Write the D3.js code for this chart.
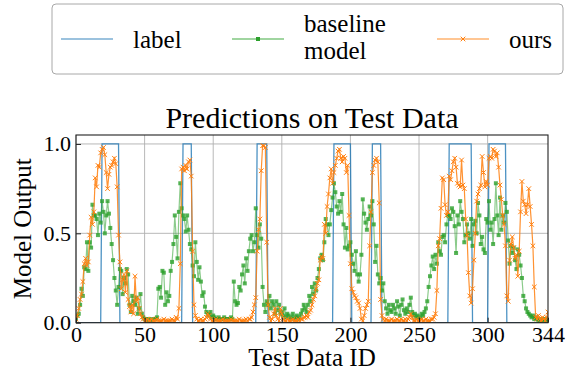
<!DOCTYPE html>
<html>
<head>
<meta charset="utf-8">
<script src="https://cdn.jsdelivr.net/npm/d3@7"></script>
<style>
  body { margin: 0; background: #fff; }
  svg, svg text { font-family: "Liberation Serif", "Times New Roman", serif; }
</style>
</head>
<body>
<div id="app"></div>
<script>
const WIDTH = 566;
const HEIGHT = 376;

// test sample ids 0..344
const ID_MAX = 344;

// label == 1 on these id ranges (inclusive), 0 elsewhere
const labelSpans = [
  [19, 31], [78, 84], [132, 139], [188, 200], [216, 222], [272, 288], [301, 313],
];

// baseline model output per id
const baseline = [
  0.02,0.04,0.05,0.10,0.19,0.15,0.31,0.30,0.45,0.29,
  0.45,0.42,0.66,0.60,0.60,0.58,0.49,0.61,0.56,0.68,
  0.62,0.50,0.60,0.68,0.61,0.53,0.44,0.35,0.25,0.18,
  0.10,0.20,0.30,0.29,0.16,0.25,0.22,0.30,0.27,0.10,
  0.06,0.15,0.12,0.10,0.14,0.05,0.08,0.16,0.05,0.03,
  0.02,0.02,0.01,0.02,0.01,0.02,0.01,0.02,0.02,0.03,
  0.19,0.20,0.14,0.29,0.28,0.10,0.17,0.12,0.15,0.29,
  0.34,0.44,0.60,0.48,0.36,0.62,0.78,0.64,0.60,0.58,
  0.51,0.60,0.52,0.44,0.41,0.32,0.26,0.45,0.34,0.24,
  0.31,0.23,0.15,0.17,0.09,0.06,0.05,0.04,0.06,0.03,
  0.04,0.03,0.02,0.02,0.03,0.02,0.02,0.02,0.03,0.02,
  0.02,0.02,0.02,0.03,0.02,0.23,0.12,0.10,0.11,0.20,
  0.18,0.27,0.32,0.22,0.36,0.29,0.40,0.47,0.49,0.40,
  0.45,0.64,0.49,0.42,0.55,0.47,0.20,0.10,0.06,0.12,
  0.10,0.15,0.08,0.12,0.10,0.05,0.12,0.07,0.10,0.05,
  0.06,0.04,0.08,0.03,0.05,0.04,0.02,0.03,0.05,0.02,
  0.03,0.04,0.02,0.03,0.05,0.07,0.10,0.08,0.06,0.10,
  0.15,0.12,0.20,0.16,0.22,0.18,0.25,0.30,0.36,0.38,
  0.35,0.45,0.58,0.55,0.49,0.55,0.63,0.70,0.78,0.73,
  0.65,0.61,0.68,0.62,0.72,0.55,0.42,0.53,0.41,0.43,
  0.45,0.38,0.33,0.29,0.40,0.27,0.23,0.27,0.38,0.69,
  0.61,0.56,0.52,0.58,0.65,0.60,0.68,0.55,0.34,0.43,
  0.27,0.22,0.25,0.18,0.22,0.12,0.08,0.05,0.10,0.07,
  0.06,0.10,0.08,0.05,0.12,0.09,0.04,0.10,0.13,0.07,
  0.05,0.08,0.06,0.10,0.14,0.06,0.04,0.05,0.03,0.04,
  0.02,0.03,0.05,0.04,0.06,0.08,0.12,0.20,0.26,0.32,
  0.37,0.30,0.38,0.33,0.45,0.40,0.38,0.48,0.49,0.45,
  0.55,0.60,0.60,0.58,0.64,0.62,0.54,0.39,0.60,0.55,
  0.68,0.62,0.58,0.45,0.49,0.55,0.50,0.47,0.58,0.43,
  0.55,0.57,0.50,0.67,0.60,0.44,0.48,0.41,0.39,0.58,
  0.56,0.68,0.52,0.56,0.44,0.58,0.78,0.60,0.49,0.70,
  0.52,0.60,0.56,0.67,0.62,0.46,0.33,0.43,0.39,0.42,
  0.35,0.30,0.41,0.38,0.32,0.25,0.15,0.12,0.08,0.06,
  0.05,0.04,0.03,0.04,0.02,0.03,0.02,0.01,0.02,0.01,
  0.02,0.01,0.02,0.01,0.02,
];

// our model output per id
const ours = [
  0.02,0.04,0.08,0.13,0.16,0.23,0.33,0.36,0.32,0.34,
  0.49,0.59,0.55,0.62,0.81,0.76,0.88,0.87,0.95,0.97,
  0.98,0.94,0.84,0.75,0.83,0.87,0.88,0.90,0.92,0.89,
  0.76,0.49,0.34,0.19,0.24,0.27,0.17,0.29,0.13,0.09,
  0.06,0.10,0.05,0.26,0.12,0.14,0.08,0.05,0.03,0.02,
  0.01,0.01,0.02,0.01,0.01,0.02,0.01,0.01,0.01,0.02,
  0.01,0.01,0.01,0.01,0.02,0.01,0.01,0.01,0.01,0.01,
  0.02,0.01,0.01,0.03,0.02,0.08,0.33,0.86,0.87,0.85,
  0.88,0.86,0.90,0.91,0.82,0.40,0.10,0.04,0.02,0.01,
  0.01,0.02,0.01,0.01,0.02,0.03,0.05,0.04,0.02,0.01,
  0.01,0.01,0.02,0.01,0.01,0.01,0.01,0.02,0.01,0.01,
  0.01,0.01,0.01,0.02,0.01,0.01,0.01,0.01,0.01,0.02,
  0.01,0.01,0.01,0.01,0.02,0.01,0.02,0.02,0.03,0.06,
  0.10,0.14,0.40,0.52,0.58,0.85,0.99,0.99,0.98,0.45,
  0.10,0.03,0.01,0.02,0.05,0.08,0.04,0.02,0.01,0.08,
  0.05,0.02,0.01,0.01,0.02,0.01,0.01,0.01,0.02,0.01,
  0.01,0.01,0.02,0.01,0.02,0.02,0.03,0.03,0.04,0.03,
  0.06,0.07,0.10,0.13,0.15,0.19,0.22,0.24,0.35,0.37,
  0.36,0.55,0.50,0.65,0.72,0.81,0.86,0.78,0.84,0.88,
  0.92,0.96,0.97,0.92,0.90,0.93,0.92,0.84,0.88,0.60,
  0.33,0.19,0.17,0.15,0.14,0.12,0.11,0.08,0.02,0.01,
  0.04,0.08,0.10,0.12,0.43,0.62,0.84,0.88,0.91,0.92,
  0.90,0.67,0.13,0.04,0.02,0.01,0.02,0.01,0.01,0.01,
  0.02,0.01,0.01,0.01,0.02,0.01,0.01,0.02,0.01,0.01,
  0.02,0.01,0.02,0.03,0.05,0.03,0.01,0.01,0.02,0.01,
  0.01,0.01,0.02,0.01,0.01,0.02,0.01,0.01,0.01,0.02,
  0.02,0.03,0.05,0.18,0.43,0.47,0.64,0.81,0.80,0.66,
  0.60,0.62,0.82,0.80,0.85,0.90,0.92,0.87,0.78,0.77,
  0.76,0.91,0.77,0.75,0.58,0.49,0.28,0.15,0.11,0.19,
  0.35,0.50,0.68,0.72,0.75,0.77,0.93,0.84,0.76,0.79,
  0.77,0.92,0.93,0.92,0.97,0.96,0.93,0.95,0.87,0.77,
  0.69,0.60,0.55,0.43,0.15,0.12,0.35,0.44,0.48,0.42,
  0.36,0.38,0.26,0.40,0.62,0.79,0.68,0.66,0.61,0.66,
  0.75,0.65,0.55,0.43,0.20,0.03,0.02,0.04,0.02,0.01,
  0.03,0.02,0.01,0.03,0.06,
];

const xTicks = [0, 50, 100, 150, 200, 250, 300, 344];
const xGrid = [0, 50, 100, 150, 200, 250, 300];
const yTicks = [0, 0.5, 1.0];

const COLORS = { label: "#1f77b4", baseline: "#2ca02c", ours: "#ff7f0e" };
const SERIF = '"Liberation Serif", "Times New Roman", serif';

const ids = d3.range(0, ID_MAX + 1);
const labels = ids.map((i) => (labelSpans.some(([a, b]) => i >= a && i <= b) ? 1 : 0));

const plot = { left: 76, right: 548, top: 135, bottom: 322.7 };

const x = d3.scaleLinear().domain([0, ID_MAX]).range([plot.left, plot.right]);
const y = d3.scaleLinear().domain([0, 1.05]).range([plot.bottom, plot.top]);

const svg = d3
  .select("#app")
  .append("svg")
  .attr("width", WIDTH)
  .attr("height", HEIGHT)
  .attr("viewBox", `0 0 ${WIDTH} ${HEIGHT}`);

svg.append("defs")
  .append("clipPath")
  .attr("id", "clip")
  .append("rect")
  .attr("x", plot.left)
  .attr("y", plot.top)
  .attr("width", plot.right - plot.left)
  .attr("height", plot.bottom - plot.top);

// grid
const grid = svg.append("g").attr("stroke", "#b0b0b0").attr("stroke-width", 0.9);
grid.selectAll("line.gx")
  .data(xGrid)
  .join("line")
  .attr("class", "gx")
  .attr("x1", (d) => x(d)).attr("x2", (d) => x(d))
  .attr("y1", plot.top).attr("y2", plot.bottom);
grid.selectAll("line.gy")
  .data(yTicks)
  .join("line")
  .attr("class", "gy")
  .attr("x1", plot.left).attr("x2", plot.right)
  .attr("y1", (d) => y(d)).attr("y2", (d) => y(d));

const g = svg.append("g").attr("clip-path", "url(#clip)");

const line = (vals) =>
  d3.line().x((_, i) => x(i)).y((d) => y(d))(vals);

// label step
g.append("path")
  .attr("d", line(labels))
  .attr("fill", "none")
  .attr("stroke", COLORS.label)
  .attr("stroke-opacity", 0.8)
  .attr("stroke-width", 1.3);

// baseline
g.append("path")
  .attr("d", line(baseline))
  .attr("fill", "none")
  .attr("stroke", COLORS.baseline)
  .attr("stroke-opacity", 0.55)
  .attr("stroke-width", 1.2);
g.append("g")
  .selectAll("rect")
  .data(baseline)
  .join("rect")
  .attr("x", (d, i) => x(i) - 2)
  .attr("y", (d) => y(d) - 2)
  .attr("width", 4)
  .attr("height", 4)
  .attr("fill", COLORS.baseline)
  .attr("fill-opacity", 0.8);

// ours
g.append("path")
  .attr("d", line(ours))
  .attr("fill", "none")
  .attr("stroke", COLORS.ours)
  .attr("stroke-opacity", 0.85)
  .attr("stroke-width", 1.2);
g.append("g")
  .selectAll("path")
  .data(ours)
  .join("path")
  .attr("d", (d, i) => {
    const cx = x(i), cy = y(d), r = 2.3;
    return `M${cx - r},${cy - r}L${cx + r},${cy + r}M${cx - r},${cy + r}L${cx + r},${cy - r}`;
  })
  .attr("stroke", COLORS.ours)
  .attr("stroke-width", 1)
  .attr("fill", "none");

// frame
svg.append("rect")
  .attr("x", plot.left)
  .attr("y", plot.top)
  .attr("width", plot.right - plot.left)
  .attr("height", plot.bottom - plot.top)
  .attr("fill", "none")
  .attr("stroke", "#222")
  .attr("stroke-width", 1.1);

// axes with inward ticks
const xAxis = svg.append("g")
  .attr("transform", `translate(0,${plot.bottom})`)
  .call(d3.axisBottom(x).tickValues(xTicks).tickSize(-5).tickPadding(4).tickFormat(d3.format("d")));
const yAxis = svg.append("g")
  .attr("transform", `translate(${plot.left},0)`)
  .call(d3.axisLeft(y).tickValues(yTicks).tickSize(-5).tickPadding(5).tickFormat(d3.format(".1f")));

[xAxis, yAxis].forEach((a) => {
  a.attr("font-family", null).attr("font-size", null);
  a.select(".domain").remove();
  a.selectAll(".tick line").attr("stroke", "#222");
  a.selectAll("text")
    .style("font-family", SERIF)
    .style("font-size", "22px")
    .attr("fill", "#000");
});

// titles
svg.append("text")
  .attr("x", (plot.left + plot.right) / 2)
  .attr("y", 128)
  .attr("text-anchor", "middle")
  .style("font-size", "30px")
  .text("Predictions on Test Data");

svg.append("text")
  .attr("x", (plot.left + plot.right) / 2)
  .attr("y", 366)
  .attr("text-anchor", "middle")
  .style("font-size", "25px")
  .text("Test Data ID");

svg.append("text")
  .attr("transform", `translate(31,${(plot.top + plot.bottom) / 2}) rotate(-90)`)
  .attr("text-anchor", "middle")
  .style("font-size", "25px")
  .text("Model Output");

// legend
const legend = svg.append("g");
legend.append("rect")
  .attr("x", 52).attr("y", 4)
  .attr("width", 511).attr("height", 70)
  .attr("rx", 4)
  .attr("fill", "#fff")
  .attr("stroke", "#a8a8a8")
  .attr("stroke-width", 1);

const legendItems = [
  { key: "label", x: 61, lines: ["label"] },
  { key: "baseline", x: 232, lines: ["baseline", "model"] },
  { key: "ours", x: 437, lines: ["ours"] },
];

legendItems.forEach((item) => {
  const ly = 39;
  legend.append("line")
    .attr("x1", item.x).attr("x2", item.x + 52)
    .attr("y1", ly).attr("y2", ly)
    .attr("stroke", COLORS[item.key])
    .attr("stroke-opacity", 0.6)
    .attr("stroke-width", 1.6);
  const mx = item.x + 26;
  if (item.key === "baseline") {
    legend.append("rect")
      .attr("x", mx - 2).attr("y", ly - 2)
      .attr("width", 4).attr("height", 4)
      .attr("fill", COLORS.baseline);
  } else if (item.key === "ours") {
    legend.append("path")
      .attr("d", `M${mx - 2.3},${ly - 2.3}L${mx + 2.3},${ly + 2.3}M${mx - 2.3},${ly + 2.3}L${mx + 2.3},${ly - 2.3}`)
      .attr("stroke", COLORS.ours)
      .attr("stroke-width", 1);
  }
  const t = legend.append("text")
    .attr("x", item.x + 72)
    .style("font-size", "25px");
  if (item.lines.length === 1) {
    t.attr("y", 48).text(item.lines[0]);
  } else {
    t.append("tspan").attr("x", item.x + 72).attr("y", 32).text(item.lines[0]);
    t.append("tspan").attr("x", item.x + 72).attr("y", 59).text(item.lines[1]);
  }
});
</script>
</body>
</html>
